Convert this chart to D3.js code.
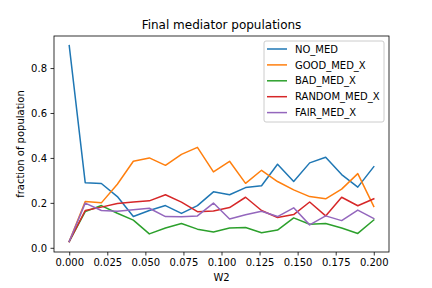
<!DOCTYPE html>
<html>
<head>
<meta charset="utf-8">
<script src="https://cdn.jsdelivr.net/npm/d3@7"></script>
<style>
  body { margin: 0; background: #fff; }
  svg { display: block; font-family: "DejaVu Sans", sans-serif; }
</style>
</head>
<body>
<div id="chart"></div>
<script>
// W2 values: 20 evenly spaced points from 0 to 0.2
var w2 = [0.0000, 0.0105, 0.0211, 0.0316, 0.0421, 0.0526, 0.0632, 0.0737, 0.0842, 0.0947,
          0.1053, 0.1158, 0.1263, 0.1368, 0.1474, 0.1579, 0.1684, 0.1789, 0.1895, 0.2000];

var no_med     = [0.900, 0.290, 0.286, 0.228, 0.139, 0.166, 0.188, 0.153, 0.188, 0.249,
                  0.236, 0.268, 0.276, 0.372, 0.295, 0.378, 0.403, 0.326, 0.270, 0.361];
var good_med   = [0.028, 0.206, 0.200, 0.283, 0.385, 0.400, 0.367, 0.416, 0.447, 0.338,
                  0.385, 0.287, 0.345, 0.295, 0.258, 0.228, 0.218, 0.261, 0.330, 0.184];
var bad_med    = [0.028, 0.161, 0.188, 0.154, 0.123, 0.062, 0.088, 0.108, 0.083, 0.070,
                  0.088, 0.090, 0.067, 0.079, 0.133, 0.105, 0.108, 0.088, 0.064, 0.124];
var random_med = [0.028, 0.166, 0.181, 0.197, 0.204, 0.209, 0.236, 0.203, 0.161, 0.164,
                  0.179, 0.225, 0.166, 0.135, 0.148, 0.204, 0.142, 0.225, 0.187, 0.218];
var fair_med   = [0.028, 0.199, 0.166, 0.163, 0.169, 0.176, 0.139, 0.138, 0.142, 0.199,
                  0.128, 0.147, 0.163, 0.139, 0.178, 0.102, 0.142, 0.121, 0.168, 0.130];

var names  = ['NO_MED', 'GOOD_MED_X', 'BAD_MED_X', 'RANDOM_MED_X', 'FAIR_MED_X'];
var xticks = [0, 0.025, 0.05, 0.075, 0.1, 0.125, 0.15, 0.175, 0.2];
var yticks = [0, 0.2, 0.4, 0.6, 0.8];

var series = [no_med, good_med, bad_med, random_med, fair_med];
var colors = ['#1f77b4', '#ff7f0e', '#2ca02c', '#d62728', '#9467bd'];

var svg_width = 432, svg_height = 288;
var ax_left = 54, ax_right = 389, ax_top = 36, ax_bottom = 252;

var svg = d3.select('#chart')
    .append('svg')
    .attr('width', svg_width)
    .attr('height', svg_height);

var x_scale = d3.scaleLinear().domain([-0.01, 0.21]).range([ax_left, ax_right]);
var y_scale = d3.scaleLinear().domain([-0.0187, 0.9427]).range([ax_bottom, ax_top]);

// x axis
var x_axis = d3.axisBottom(x_scale)
    .tickValues(xticks)
    .tickFormat(d3.format('.3f'))
    .tickSize(3.5)
    .tickPadding(3.5);
var gx = svg.append('g')
    .attr('transform', 'translate(0,' + ax_bottom + ')')
    .call(x_axis);

// y axis
var y_axis = d3.axisLeft(y_scale)
    .tickValues(yticks)
    .tickFormat(d3.format('.1f'))
    .tickSize(3.5)
    .tickPadding(3.5);
var gy = svg.append('g')
    .attr('transform', 'translate(' + ax_left + ',0)')
    .call(y_axis);

[gx, gy].forEach(function(g) {
    g.select('.domain').remove();
    g.selectAll('line').attr('stroke', '#000').attr('stroke-width', 0.8);
    g.selectAll('text').attr('fill', '#000').style('font-size', '10px')
        .style('font-family', '"DejaVu Sans", sans-serif');
});

// lines
var line = d3.line()
    .x(function(d, i) { return x_scale(w2[i]); })
    .y(function(d) { return y_scale(d); });

svg.append('g')
    .selectAll('path')
    .data(series)
    .enter()
    .append('path')
    .attr('d', line)
    .attr('fill', 'none')
    .attr('stroke', function(d, i) { return colors[i]; })
    .attr('stroke-width', 1.5)
    .attr('stroke-linejoin', 'round')
    .attr('stroke-linecap', 'square');

// frame
svg.append('rect')
    .attr('x', ax_left).attr('y', ax_top)
    .attr('width', ax_right - ax_left).attr('height', ax_bottom - ax_top)
    .attr('fill', 'none')
    .attr('stroke', '#000')
    .attr('stroke-width', 0.8);

// title and labels
svg.append('text')
    .attr('x', (ax_left + ax_right) / 2).attr('y', 29)
    .attr('text-anchor', 'middle')
    .style('font-size', '12px')
    .text('Final mediator populations');

svg.append('text')
    .attr('x', (ax_left + ax_right) / 2).attr('y', 281)
    .attr('text-anchor', 'middle')
    .style('font-size', '10px')
    .text('W2');

svg.append('text')
    .attr('transform', 'translate(24,' + ((ax_top + ax_bottom) / 2) + ') rotate(-90)')
    .attr('text-anchor', 'middle')
    .style('font-size', '10px')
    .text('fraction of population');

// legend
var legend = svg.append('g').attr('transform', 'translate(264,41)');
legend.append('rect')
    .attr('width', 120).attr('height', 81)
    .attr('rx', 2)
    .attr('fill', '#fff').attr('fill-opacity', 0.8)
    .attr('stroke', '#ccc').attr('stroke-width', 1);

var items = legend.selectAll('g.item')
    .data(names)
    .enter()
    .append('g')
    .attr('class', 'item')
    .attr('transform', function(d, i) { return 'translate(0,' + (8 + i * 15.9) + ')'; });

items.append('line')
    .attr('x1', 3).attr('x2', 23)
    .attr('stroke', function(d, i) { return colors[i]; })
    .attr('stroke-width', 1.5);

items.append('text')
    .attr('x', 31).attr('y', 3.6)
    .style('font-size', '10px')
    .text(function(d) { return d; });
</script>
</body>
</html>
